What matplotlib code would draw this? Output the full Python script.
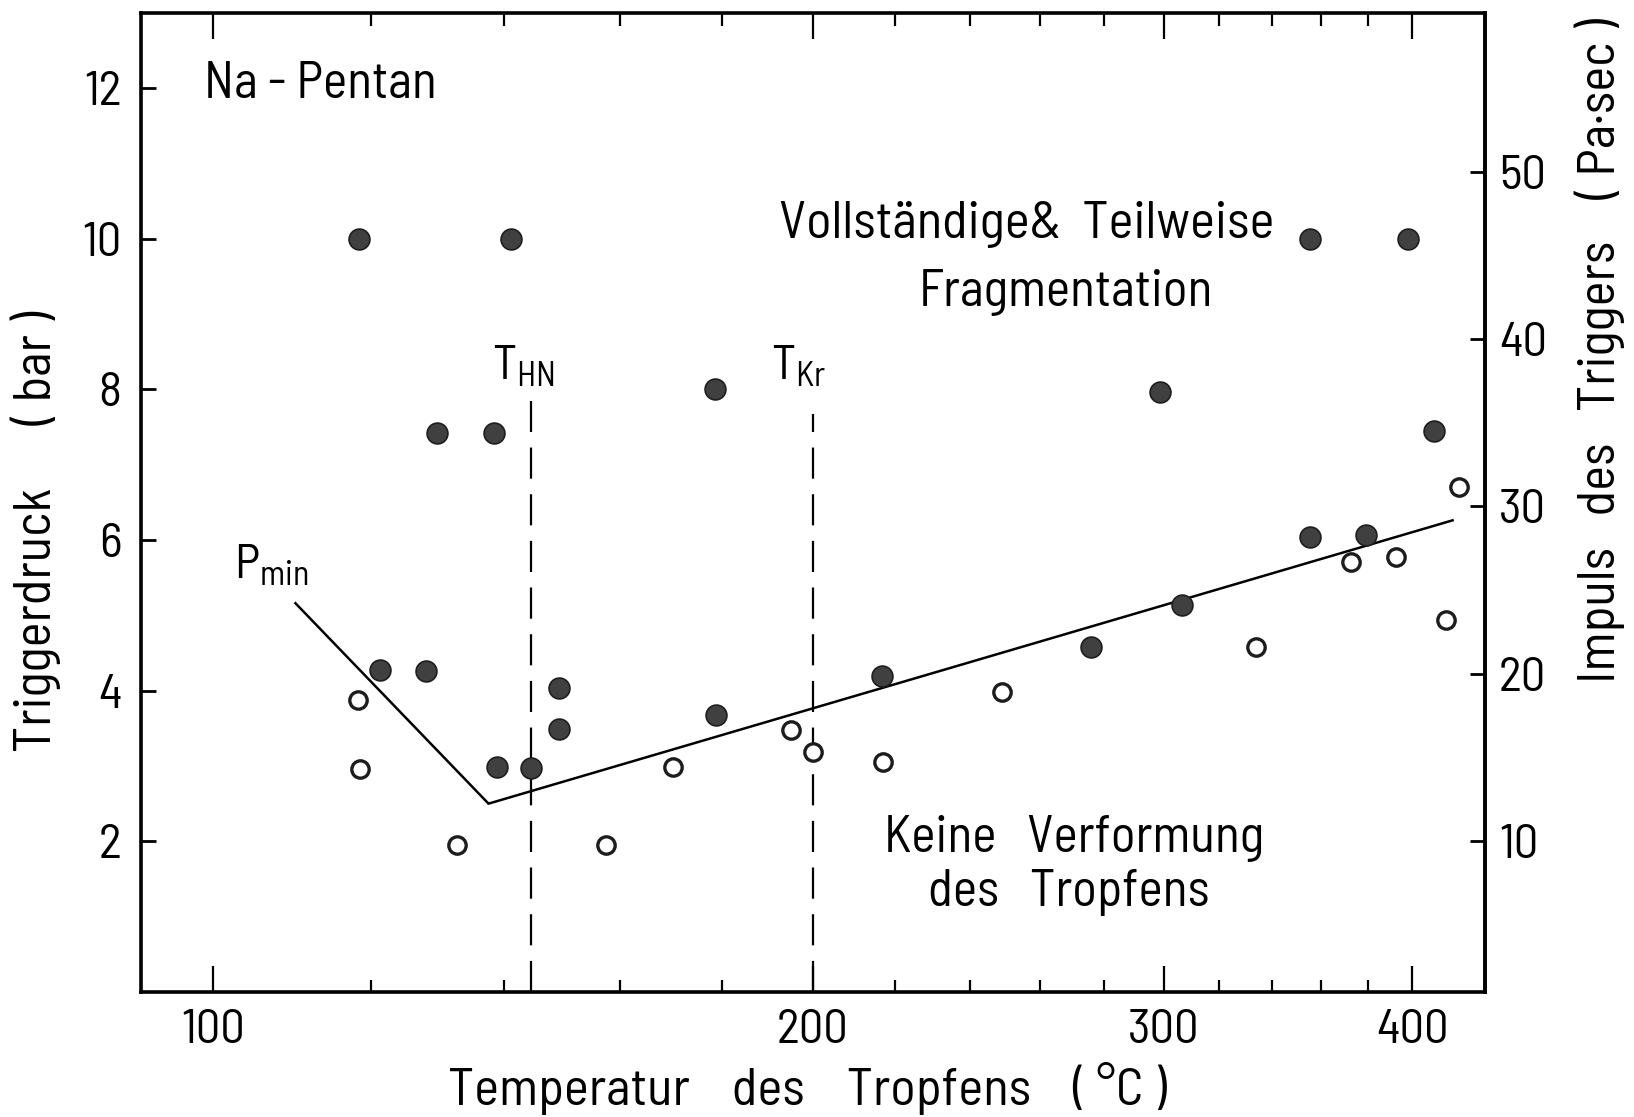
import matplotlib
matplotlib.use('Agg')
import matplotlib.pyplot as plt
from matplotlib.ticker import FixedLocator, NullFormatter

plt.rcParams['font.family'] = ['Barlow Semi Condensed', 'Barlow Condensed', 'DejaVu Sans']
plt.rcParams['mathtext.fontset'] = 'custom'
plt.rcParams['mathtext.rm'] = 'Barlow Semi Condensed'
plt.rcParams['mathtext.it'] = 'Barlow Semi Condensed'


### DATA ====

## drops with complete or partial fragmentation (filled)
frag_T = [118.4, 141.1, 129.6, 138.3, 178.6, 121.3, 127.9, 138.9, 144.4, 149.1,
          149.2, 178.8, 216.8, 275.8, 306.4, 355.4, 379.2, 355.4, 397.9, 298.9, 410.0]
frag_p = [10.0, 10.0, 7.42, 7.42, 8.0, 4.27, 4.26, 2.99, 2.97, 4.04,
          3.49, 3.67, 4.19, 4.58, 5.13, 6.04, 6.06, 10.0, 10.0, 7.96, 7.44]

## drops without deformation (open)
none_T = [118.3, 118.5, 132.6, 157.5, 170.2, 195.1, 200.0, 217.0, 248.8, 334.0,
          372.6, 392.6, 416.0, 422.0]
none_p = [3.87, 2.96, 1.95, 1.95, 2.98, 3.48, 3.19, 3.05, 3.98, 4.58,
          5.71, 5.78, 4.94, 6.70]

## minimum trigger pressure
pmin_T = [110.0, 137.5, 419.0]
pmin_p = [5.16, 2.50, 6.26]

## characteristic temperatures
T_HN = 144.5
T_Kr = 200.0
dash_top = [7.85, 7.67]

x_major = [100, 200, 300, 400]
x_minor = [120, 140, 160, 180, 220, 240, 260, 280, 320, 340, 360, 380]
y_major = [2, 4, 6, 8, 10, 12]
imp_major = [10, 20, 30, 40, 50]


### PLOT ====

fig = plt.figure(figsize=(16.34, 11.17), dpi=100)
ax = fig.add_axes([0.0862, 0.1119, 0.8226, 0.8769])

ax.set_xscale('log')
ax.set_xlim(92, 435)
ax.set_ylim(0, 13)

# P_min boundary and characteristic temperatures
ax.plot(pmin_T, pmin_p, color='black', lw=1.8)
for t, top in zip([T_HN, T_Kr], dash_top):
  ax.plot([t, t], [0, top], color='black', lw=1.6, dashes=(14, 7))

ax.plot(none_T, none_p, 'o', ms=12.5, mfc='white', mec='#1c1c1c', mew=2.4)
ax.plot(frag_T, frag_p, 'o', ms=15, mfc='#404040', mec='#1e1e1e', mew=1.2)

# axes + ticks
for s in ax.spines.values():
  s.set_linewidth(2.6)

ax.xaxis.set_major_locator(FixedLocator(x_major))
ax.xaxis.set_minor_locator(FixedLocator(x_minor))
ax.xaxis.set_minor_formatter(NullFormatter())
ax.set_xticklabels([str(v) for v in x_major])
ax.tick_params(axis='x', which='major', direction='in', top=True, length=19,
               width=1.6, labelsize=35, pad=12)
ax.tick_params(axis='x', which='minor', direction='in', top=True, length=9,
               width=1.6)

ax.set_yticks(y_major)
ax.tick_params(axis='y', which='major', direction='in', length=11, width=2,
               labelsize=35, pad=14)

ax2 = ax.twinx()
ax2.set_ylim(0 * 4.5 + 1, 13 * 4.5 + 1)
ax2.set_yticks(imp_major)
ax2.tick_params(axis='y', which='major', direction='in', length=11, width=2,
                labelsize=35, pad=10)
ax2.spines['right'].set_linewidth(2.6)

# labels
ax.set_xlabel('Temperatur    des    Tropfens    ( °C )', fontsize=38, va='center')
ax.xaxis.set_label_coords(0.496, -0.099)
ax.set_ylabel('Triggerdruck      ( bar )', fontsize=38, va='center')
ax.yaxis.set_label_coords(-0.078, 0.47)
ax2.set_ylabel('Impuls   des   Triggers    ( Pa·sec )', fontsize=38, va='center')
ax2.yaxis.set_label_coords(1.0856, 0.655)

# annotations
ax.text(99, 12.04, 'Na - Pentan', fontsize=37, ha='left', va='center')
ax.text(256, 10.18, 'Vollständige&  Teilweise', fontsize=38, ha='center', va='center')
ax.text(268, 9.28, 'Fragmentation', fontsize=37, ha='center', va='center')
ax.text(270.6, 2.04, 'Keine   Verformung', fontsize=37, ha='center', va='center')
ax.text(269, 1.32, 'des   Tropfens', fontsize=37, ha='center', va='center')
ax.text(138, 8.13, r'T$_{\mathrm{HN}}$', fontsize=35, ha='left', va='baseline')
ax.text(190.6, 8.13, r'T$_{\mathrm{Kr}}$', fontsize=35, ha='left', va='baseline')
ax.text(102.4, 5.49, r'P$_{\mathrm{min}}$', fontsize=35, ha='left', va='baseline')

plt.savefig('out.png', dpi=100)
